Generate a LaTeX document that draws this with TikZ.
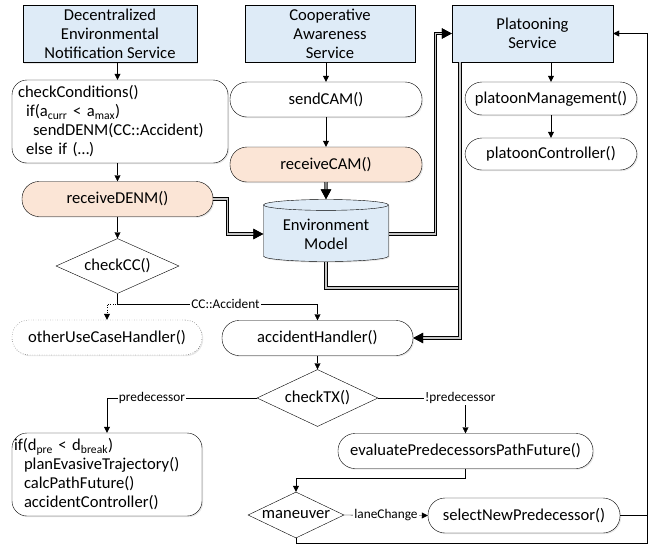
\documentclass[tikz,border=0pt]{standalone}
\usepackage{fontspec}
\setmainfont{Carlito}
\usetikzlibrary{arrows.meta,shapes.geometric,shadows,positioning}
\definecolor{svcblue}{RGB}{222,235,247}
\definecolor{rxpeach}{RGB}{251,229,214}
\newcommand\boxfont{\fontsize{16.6}{19}\selectfont}
\newcommand\lblfont{\fontsize{13.3}{15}\selectfont}
\tikzset{>={Triangle[length=6pt,width=6pt]}}
\tikzset{
	every node/.style={font=\boxfont},
	shd/.style={drop shadow={opacity=.18,shadow xshift=1.2pt,shadow yshift=-1.2pt}},
	svc/.style={draw,fill=svcblue,shd,minimum width=#1,minimum height=57pt,align=center,inner sep=2pt},
	fnc/.style={draw,fill=white,shd,rounded corners=17pt,minimum width=#1,minimum height=35pt,inner sep=2pt},
	multi/.style={draw,fill=white,shd,rounded corners=15pt,align=left,text width=#1,minimum height=83pt,inner xsep=6pt},
	dec/.style={draw,fill=white,diamond,aspect=2.2,inner sep=0pt,minimum width=123pt,minimum height=55pt},
	db/.style={draw,fill=svcblue,shd,cylinder,shape border rotate=90,aspect=0.12,minimum width=125pt,minimum height=62pt,align=center,inner sep=2pt},
	dbl/.style={draw=gray!45,line width=1.3pt,preaction={draw=black,line width=3.3pt}},
	dbltip/.style={-{Triangle[length=10pt,width=10pt,black]}},
	lbl/.style={fill=white,inner sep=1pt,font=\lblfont},
	line width=.8pt
}

\begin{document}
\begin{tikzpicture}[x=1pt,y=-1pt]
	\useasboundingbox (0,0) rectangle (660,546);
	% services
	\node[svc=174pt] (dens) at (110,34) {Decentralized\\Environmental\\Notification Service};
	\node[svc=170pt] (cas) at (330,33.5) {Cooperative\\Awareness\\Service};
	\node[svc=161pt] (plat) at (532.5,33.5) {Platooning\\Service};
	% DENM
	\node[multi=204pt] (chk) at (120,121.5) {checkConditions()\\
		\hspace*{8pt}if(a\textsubscript{curr} < a\textsubscript{max})\\
		\hspace*{15pt}sendDENM(CC::Accident)\\
		\hspace*{8pt}else if (…)};
	\node[fnc=191pt,fill=rxpeach] (rdenm) at (117.5,199) {receiveDENM()};
	\node[dec] (ccd) at (117.5,266) {checkCC()};
	\node[fnc=190pt,dotted,drop shadow={opacity=0}] (other) at (107,337.5) {otherUseCaseHandler()};
	\node[fnc=191pt] (acc) at (317.5,338) {accidentHandler()};
	\node[dec,minimum width=121pt,minimum height=57pt] (tx) at (317.5,398) {checkTX()};
	\node[multi=186pt,inner xsep=2pt] (evade) at (107,474.5) {if(d\textsubscript{pre} < d\textsubscript{break})\\
		\hspace*{10pt}planEvasiveTrajectory()\\
		\hspace*{10pt}calcPathFuture()\\
		\hspace*{10pt}accidentController()};
	\node[fnc=255pt] (eval) at (465.5,451) {evaluatePredecessorsPathFuture()};
	\node[dec,aspect=2.1,minimum width=96pt,minimum height=46pt] (man) at (296,515) {maneuver};
	\node[fnc=192pt] (sel) at (524,515.5) {selectNewPredecessor()};
	% CAM
	\node[fnc=192pt] (send) at (326,99.5) {sendCAM()};
	\node[fnc=192pt,fill=rxpeach] (rcam) at (326,164.5) {receiveCAM()};
	\node[db] (env) at (326,234) {Environment\\Model};
	% platooning
	\node[fnc=172pt,minimum height=33pt] (pman) at (551,98.5) {platoonManagement()};
	\node[fnc=172pt,minimum height=32pt] (pctl) at (551,154) {platoonController()};

	\draw[->] (rdenm.north |- dens.south) -- (rdenm.north |- chk.north);
	\draw[->] (rdenm.north |- chk.south) -- (rdenm.north);
	\draw[->] (rdenm) -- (ccd);
	\draw[->,dotted] (ccd.south) -- ++(0,10) -| (other.north);
	\draw[->] (ccd.south) -- ++(0,10) -| node[lbl,pos=.27]{CC::Accident} (acc.north);
	\draw[->] (acc) -- (tx);
	\draw[->] (tx.west) -| node[lbl,pos=.35]{predecessor} (evade.north);
	\draw[->] (tx.east) -| node[lbl,pos=.47]{!predecessor} (eval.north);
	\draw[->] (eval.south) -- ++(0,9) -| (man.north);
	\draw[->] (man.east) -- node[lbl,pos=.5]{laneChange} (sel.west);
	\coordinate (rail) at (647,543);
	\draw[->] (man.south) |- (rail) |- (plat.east);
	\draw (sel.east) -- (sel.east -| rail);

	\draw[->] (send.north |- cas.south) -- (send.north);
	\draw[->] (send) -- (rcam);
	\draw[dbl,dbltip] (rcam) -- (env);
	\draw[dbl,dbltip] (rdenm.east) -- ++(14,0) |- (env.west);
	\draw[dbl,dbltip] (env.east) -- ++(47,0) |- (plat.west);
	\coordinate (pbus) at (460,288);
	\draw[dbl] (env.south) |- (pbus);
	\draw[dbl,dbltip] (pbus |- plat.south) |- (acc.east);

	\draw[->] (pman.north |- plat.south) -- (pman.north);
	\draw[->] (pman) -- (pctl);
\end{tikzpicture}
\end{document}
